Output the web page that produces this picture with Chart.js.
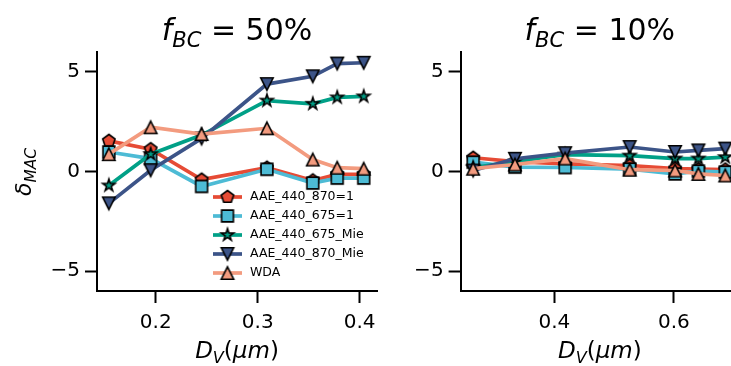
<!DOCTYPE html>
<html>
<head>
<meta charset="utf-8">
<script src="https://cdn.jsdelivr.net/npm/chart.js@4/dist/chart.umd.min.js"></script>
<style>
body{margin:0;background:#fff;width:731px;height:366px;overflow:hidden;position:relative}
canvas{position:absolute;top:0}
#left{left:0}
#right{left:395px}
</style>
</head>
<body>
<canvas id="left" width="395" height="366"></canvas>
<canvas id="right" width="360" height="366"></canvas>
<script>
// series names (legend order)
var seriesNames = ['AAE_440_870=1', 'AAE_440_675=1', 'AAE_440_675_Mie', 'AAE_440_870_Mie', 'WDA'];
var seriesColors = ['#e64b35', '#4dbbd5', '#00a087', '#3c5488', '#f39b7f'];
var seriesMarkers = ['pentagon', 'square', 'star', 'down', 'up'];

// f_BC = 50%
var dvLeft = [0.154, 0.195, 0.245, 0.309, 0.354, 0.378, 0.404];
var left870 = [1.54, 1.12, -0.41, 0.19, -0.45, -0.14, -0.14];
var left675 = [0.98, 0.65, -0.75, 0.11, -0.58, -0.33, -0.33];
var left675Mie = [-0.7, 0.87, 1.83, 3.56, 3.4, 3.72, 3.77];
var left870Mie = [-1.6, 0.06, 1.66, 4.39, 4.78, 5.42, 5.46];
var leftWDA = [0.87, 2.22, 1.88, 2.17, 0.6, 0.19, 0.14];

// f_BC = 10%
var dvRight = [0.264, 0.334, 0.418, 0.526, 0.602, 0.641, 0.686];
var right870 = [0.69, 0.5, 0.38, 0.3, 0.15, 0.12, 0.1];
var right675 = [0.47, 0.22, 0.2, 0.12, -0.12, 0.02, -0.03];
var right675Mie = [0.2, 0.5, 0.85, 0.8, 0.65, 0.65, 0.72];
var right870Mie = [0.05, 0.64, 0.92, 1.23, 0.98, 1.06, 1.15];
var rightWDA = [0.14, 0.35, 0.65, 0.09, 0.05, -0.12, -0.2];

var yTicks = [-5, 0, 5];
var xTicksLeft = [0.2, 0.3, 0.4];
var xTicksRight = [0.4, 0.6];

var FONT = '"DejaVu Sans", sans-serif';

function makeMarker(kind, fill) {
	var c = document.createElement('canvas');
	c.width = 22; c.height = 22;
	var g = c.getContext('2d');
	var cx = 11, cy = 11, i, a, r;
	g.fillStyle = fill;
	g.strokeStyle = '#000';
	g.lineWidth = 1.6;
	g.beginPath();
	if (kind == 'pentagon') {
		for (i = 0; i < 5; i++) {
			a = -Math.PI / 2 + i * 2 * Math.PI / 5;
			g.lineTo(cx + 6.5 * Math.cos(a), cy + 6.5 * Math.sin(a));
		}
	} else if (kind == 'square') {
		g.rect(cx - 5.9, cy - 5.9, 11.8, 11.8);
	} else if (kind == 'star') {
		for (i = 0; i < 10; i++) {
			a = -Math.PI / 2 + i * Math.PI / 5;
			r = i % 2 ? 6.4 * 0.382 : 6.4;
			g.lineTo(cx + r * Math.cos(a), cy + r * Math.sin(a));
		}
	} else if (kind == 'up') {
		g.moveTo(cx, cy - 6.2); g.lineTo(cx + 6.2, cy + 6.2); g.lineTo(cx - 6.2, cy + 6.2);
	} else {
		g.moveTo(cx, cy + 6.2); g.lineTo(cx + 6.2, cy - 6.2); g.lineTo(cx - 6.2, cy - 6.2);
	}
	g.closePath();
	g.fill();
	g.stroke();
	return c;
}

var markerImgs = seriesMarkers.map(function(m, i){ return makeMarker(m, seriesColors[i]); });

function mathFont(p, size) {
	return (p.it ? 'italic ' : '') + (p.sub ? size * 0.7 : size) + 'px ' + FONT;
}

function drawMath(ctx, parts, size, cx, cy, rotate) {
	var w = 0;
	parts.forEach(function(p){
		ctx.font = mathFont(p, size);
		p.w = ctx.measureText(p.t).width;
		w += p.w;
	});
	ctx.save();
	ctx.translate(cx, cy);
	if (rotate) ctx.rotate(-Math.PI / 2);
	ctx.fillStyle = '#000';
	ctx.textAlign = 'left';
	ctx.textBaseline = 'alphabetic';
	var x = -w / 2;
	parts.forEach(function(p){
		ctx.font = mathFont(p, size);
		ctx.fillText(p.t, x, p.sub ? size * 0.22 : 0);
		x += p.w;
	});
	ctx.restore();
}

function labelsPlugin(pct, withYLabel, withLegend) {
	return {
		id: 'labels',
		afterDraw: function(chart){
			var ctx = chart.ctx, ca = chart.chartArea;
			var mid = (ca.left + ca.right) / 2;
			drawMath(ctx, [{t: 'f', it: true}, {t: 'BC', it: true, sub: true}, {t: ' = ' + pct}], 30, mid, 40);
			drawMath(ctx, [{t: 'D', it: true}, {t: 'V', it: true, sub: true}, {t: '('}, {t: 'μm', it: true}, {t: ')'}], 23, mid, 358);
			if (withYLabel) {
				drawMath(ctx, [{t: 'δ', it: true}, {t: 'MAC', it: true, sub: true}], 22, 31, 172, true);
			}
			if (withLegend) {
				ctx.save();
				seriesNames.forEach(function(name, i){
					var y = 197 + i * 19;
					ctx.strokeStyle = seriesColors[i];
					ctx.lineWidth = 3.7;
					ctx.beginPath();
					ctx.moveTo(213, y);
					ctx.lineTo(242, y);
					ctx.stroke();
					ctx.drawImage(markerImgs[i], 227.5 - 11, y - 11);
					ctx.fillStyle = '#000';
					ctx.font = '12.5px ' + FONT;
					ctx.textAlign = 'left';
					ctx.textBaseline = 'middle';
					ctx.fillText(name, 250, y);
				});
				ctx.restore();
			}
		}
	};
}

function makeDatasets(xs, ys) {
	return ys.map(function(vals, i){
		return {
			label: seriesNames[i],
			data: vals.map(function(v, j){ return {x: xs[j], y: v}; }),
			borderColor: seriesColors[i],
			backgroundColor: seriesColors[i],
			borderWidth: 3.7,
			pointStyle: markerImgs[i],
			pointRadius: 7,
			tension: 0,
			clip: false,
			order: 5 - i
		};
	});
}

function axisStyle() {
	return {
		grid: {display: true, drawOnChartArea: false, drawTicks: true, tickLength: 12, tickWidth: 2, tickColor: '#000'},
		border: {display: true, color: '#000', width: 2}
	};
}

function makeChart(id, xs, ys, xmin, xmax, xTicks, yWidth, rightPad, pct, first) {
	var xa = axisStyle(), ya = axisStyle();
	xa.type = 'linear';
	xa.min = xmin;
	xa.max = xmax;
	xa.afterBuildTicks = function(s){ s.ticks = xTicks.map(function(v){ return {value: v}; }); };
	xa.afterFit = function(s){ s.height = 75; };
	xa.ticks = {font: {family: FONT, size: 20}, color: '#000', padding: 8, maxRotation: 0, autoSkip: false,
		callback: function(v){ return v.toFixed(1); }};
	ya.min = -6;
	ya.max = 6;
	ya.afterBuildTicks = function(s){ s.ticks = yTicks.map(function(v){ return {value: v}; }); };
	ya.afterFit = function(s){ s.width = yWidth; };
	ya.ticks = {font: {family: FONT, size: 20}, color: '#000', padding: 5,
		callback: function(v){ return v < 0 ? '\u2212' + Math.abs(v) : String(v); }};

	return new Chart(document.getElementById(id), {
		type: 'line',
		data: {datasets: makeDatasets(xs, ys)},
		options: {
			responsive: false,
			animation: false,
			devicePixelRatio: 1,
			layout: {padding: {top: 52, right: rightPad, left: 0, bottom: 0}},
			scales: {x: xa, y: ya},
			plugins: {legend: {display: false}, tooltip: {enabled: false}}
		},
		plugins: [labelsPlugin(pct, first, first)]
	});
}

makeChart('left', dvLeft, [left870, left675, left675Mie, left870Mie, leftWDA],
	0.1424, 0.417, xTicksLeft, 97, 18, '50%', true);
makeChart('right', dvRight, [right870, right675, right675Mie, right870Mie, rightWDA],
	0.243, 0.709, xTicksRight, 65.6, 16, '10%', false);
</script>
</body>
</html>
